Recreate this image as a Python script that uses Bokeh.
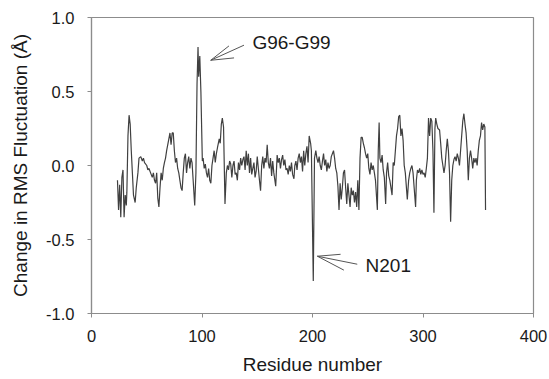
from bokeh.plotting import figure
from bokeh.models import Range1d, FixedTicker
from bokeh.core.properties import value
from bokeh.embed import file_html
from bokeh.resources import INLINE

residue = [23.5, 24.5, 25.5, 26.5, 27.5, 28.5, 29.5, 30.5, 31.5, 32, 33, 34, 35, 36, 37, 38, 39.5, 40.5, 42, 43,
           44.6, 46, 47, 48, 50, 51, 52, 54, 55, 56, 57, 58, 59, 60, 61, 62, 63, 64, 65, 66,
           67, 68, 70, 71, 72, 73, 74, 75, 76, 77, 78, 79, 80, 81, 82, 83, 84, 85, 86, 87,
           88, 89, 90, 91, 92, 93.4, 94.5, 95.5, 96.4, 97, 98, 99, 100.3, 101, 102, 103, 104, 105, 106, 107,
           108, 109, 110, 111, 112, 113, 114, 115.6, 116.5, 117.5, 118.4, 119.5, 120.8, 122, 123, 124, 125, 126, 127, 128,
           129, 130, 131, 132, 133, 134, 135, 136, 137, 138, 139, 140, 141, 142, 143, 144, 145, 146, 147, 148,
           149, 150, 151, 152, 153, 154, 155, 156, 157, 158, 159, 160, 161, 162, 163, 164, 165, 166.7, 168, 169,
           170, 171, 172, 173, 174, 175, 176, 177, 178, 179, 180, 181, 182, 183.2, 184, 185, 186, 187, 188, 189,
           190, 191, 192, 193, 194, 195, 196, 197, 198.3, 199, 200.7, 201.8, 203, 204, 205, 206, 207, 208, 209, 210,
           211, 212, 213, 214, 215, 216, 217, 219, 220, 221, 222, 223, 224, 225, 226, 227, 228, 229, 230, 231,
           232, 233, 234, 235, 236, 237, 238, 239, 240, 241, 242, 243, 244, 245, 246, 247, 248, 249, 250, 251,
           252, 253, 254, 255, 256, 257, 258.7, 259.5, 260.3, 261, 262, 263, 264, 265, 266.2, 267, 268, 269, 270, 271,
           272, 273, 274, 275, 276, 277, 278, 279, 280, 281, 282, 283, 284, 285.8, 287, 288, 289, 290, 291, 292,
           293.3, 294, 295, 296, 297, 298, 299, 300, 301, 302, 303, 304, 305, 306, 307, 308, 309, 309.9, 310.8, 311.5,
           312.5, 313.5, 315, 316, 317, 318, 319, 320, 321, 322, 323, 324, 325, 326, 327, 328, 329, 330, 331, 332,
           333, 334, 335, 336, 337, 338, 339, 340, 341, 342, 343, 344, 345, 346, 347, 348, 349, 350, 351, 352,
           353, 354, 355, 356, 356.6]

delta_rmsf = [-0.10, -0.30, -0.13, -0.35, -0.08, -0.03, -0.35, -0.20, -0.27, -0.18, 0.20, 0.34, 0.28, 0.10, -0.05, -0.20, -0.25, -0.15, -0.05, 0.05,
              0.06, 0.03, 0.05, 0.02, 0.00, -0.03, -0.02, -0.06, -0.08, -0.05, -0.10, -0.12, -0.05, -0.22, -0.28, -0.15, -0.05, -0.10, -0.02, 0.02,
              0.05, 0.10, 0.18, 0.22, 0.14, 0.22, 0.22, 0.10, 0.02, 0.05, -0.02, -0.05, -0.10, -0.15, -0.17, -0.05, 0.05, 0.08, -0.05, 0.02,
              0.06, -0.02, 0.05, 0.02, -0.10, -0.27, -0.05, 0.55, 0.80, 0.60, 0.74, 0.50, 0.03, 0.05, -0.02, 0.01, -0.05, -0.08, -0.02, -0.10,
              -0.12, 0.00, 0.05, 0.10, 0.02, 0.08, 0.12, 0.18, 0.15, 0.28, 0.32, 0.26, -0.26, -0.05, 0.00, -0.03, 0.03, 0.01, -0.08, 0.00,
              0.03, -0.06, -0.05, -0.10, 0.02, -0.03, 0.05, 0.00, 0.04, 0.06, -0.03, 0.10, 0.00, 0.08, -0.05, 0.05, -0.06, -0.02, 0.02, -0.08,
              -0.04, 0.06, -0.02, -0.10, -0.17, 0.00, 0.06, -0.02, 0.05, 0.02, 0.14, 0.02, -0.02, 0.05, -0.07, 0.03, -0.05, -0.14, 0.07, 0.02,
              0.05, -0.02, 0.04, 0.07, 0.00, 0.04, -0.03, -0.02, -0.06, 0.00, -0.04, 0.02, -0.06, -0.09, 0.00, 0.03, -0.03, 0.05, 0.08, 0.02,
              0.06, -0.04, 0.10, 0.00, 0.08, 0.13, 0.02, 0.20, 0.15, 0.10, -0.78, 0.05, 0.10, 0.05, 0.02, 0.06, 0.00, -0.03, 0.03, 0.08,
              0.00, 0.04, -0.04, 0.02, -0.02, 0.00, 0.06, 0.10, 0.05, -0.02, -0.05, -0.14, -0.30, -0.12, -0.23, -0.15, -0.05, -0.03, -0.15, -0.26,
              -0.12, -0.20, -0.28, -0.15, -0.20, -0.17, -0.25, -0.18, -0.28, -0.10, -0.30, 0.05, 0.19, 0.19, 0.15, 0.12, 0.08, 0.05, 0.08, -0.02,
              -0.06, 0.02, -0.03, 0.00, -0.05, -0.10, -0.30, 0.10, 0.29, 0.05, 0.02, 0.07, -0.03, -0.08, -0.26, -0.05, 0.02, -0.07, -0.10, -0.15,
              -0.20, 0.02, 0.00, 0.10, 0.20, 0.25, 0.33, 0.34, 0.20, 0.25, 0.17, 0.00, -0.05, -0.23, -0.10, -0.05, -0.02, 0.00, -0.05, -0.15,
              -0.28, -0.10, -0.03, -0.05, -0.02, -0.06, -0.03, -0.06, -0.05, -0.08, -0.02, 0.05, 0.32, 0.20, 0.32, 0.30, 0.10, -0.32, 0.25, 0.32,
              0.28, 0.25, 0.24, 0.15, 0.05, 0.00, -0.05, 0.00, 0.10, 0.18, 0.10, -0.05, -0.38, -0.10, 0.00, 0.04, 0.06, 0.03, 0.08, 0.05,
              0.00, 0.10, 0.20, 0.30, 0.35, 0.28, 0.22, 0.10, -0.10, 0.05, 0.10, 0.05, -0.02, 0.05, 0.02, 0.05, 0.00, 0.10, 0.17, 0.20,
              0.29, 0.24, 0.28, 0.26, -0.30]

x_ticks = [0, 100, 200, 300, 400]
x_tick_labels = ["0", "100", "200", "300", "400"]
y_ticks = [-1.0, -0.5, 0.0, 0.5, 1.0]
y_tick_labels = ["-1.0", "-0.5", "0.0", "0.5", "1.0"]

# annotations: label text, label anchor, arrow tip, arrow tail and two arm ends (data units)
ann_text = ["G96-G99", "N201"]
ann_x = [145.6, 248.0]
ann_y = [0.828, -0.674]
arrow_x0 = [107.9, 107.9, 107.9, 204.4, 204.4, 204.4]
arrow_y0 = [0.711, 0.711, 0.711, -0.613, -0.613, -0.613]
arrow_x1 = [138.0, 124.4, 129.0, 240.5, 225.4, 228.4]
arrow_y1 = [0.813, 0.808, 0.727, -0.667, -0.600, -0.707]

FONT = "Liberation Sans"
GREY = "#8c8c8c"

p = figure(width=549, height=379, output_backend="svg", toolbar_location=None,
           x_range=Range1d(0, 400), y_range=Range1d(-1, 1),
           min_border_left=91, min_border_right=16, min_border_top=17, min_border_bottom=66)
p.xgrid.visible = False
p.ygrid.visible = False
p.outline_line_color = GREY
p.outline_line_width = 1.2
p.background_fill_color = "white"
p.border_fill_color = "white"

p.line(residue, delta_rmsf, line_color="#404040", line_width=1.2)

p.segment(x0=arrow_x0, y0=arrow_y0, x1=arrow_x1, y1=arrow_y1, line_color="#555555", line_width=1)
p.text(x=ann_x, y=ann_y, text=ann_text, text_font=value(FONT), text_font_size="19px",
       text_baseline="middle", text_align="left", text_color="#1a1a1a")

p.xaxis.ticker = FixedTicker(ticks=x_ticks)
p.yaxis.ticker = FixedTicker(ticks=y_ticks)
p.xaxis.major_label_overrides = dict(zip(x_ticks, x_tick_labels))
p.yaxis.major_label_overrides = dict(zip(y_ticks, y_tick_labels))
p.xaxis.axis_label = "Residue number"
p.yaxis.axis_label = "Change in RMS Fluctuation (Å)"
for ax in (p.xaxis, p.yaxis):
    ax.axis_line_color = GREY
    ax.axis_line_width = 1.2
    ax.major_tick_line_color = GREY
    ax.major_tick_out = 4
    ax.major_tick_in = 0
    ax.minor_tick_line_color = None
    ax.major_label_text_font = FONT
    ax.major_label_text_font_size = "16.5px"
    ax.major_label_text_color = "#1a1a1a"
    ax.axis_label_text_font = FONT
    ax.axis_label_text_font_size = "19px"
    ax.axis_label_text_font_style = "normal"
    ax.axis_label_text_color = "#1a1a1a"
p.xaxis.major_label_standoff = 12
p.yaxis.major_label_standoff = 13
p.xaxis.axis_label_standoff = 9
p.yaxis.axis_label_standoff = 12

open("out.html", "w").write(file_html(p, INLINE))
